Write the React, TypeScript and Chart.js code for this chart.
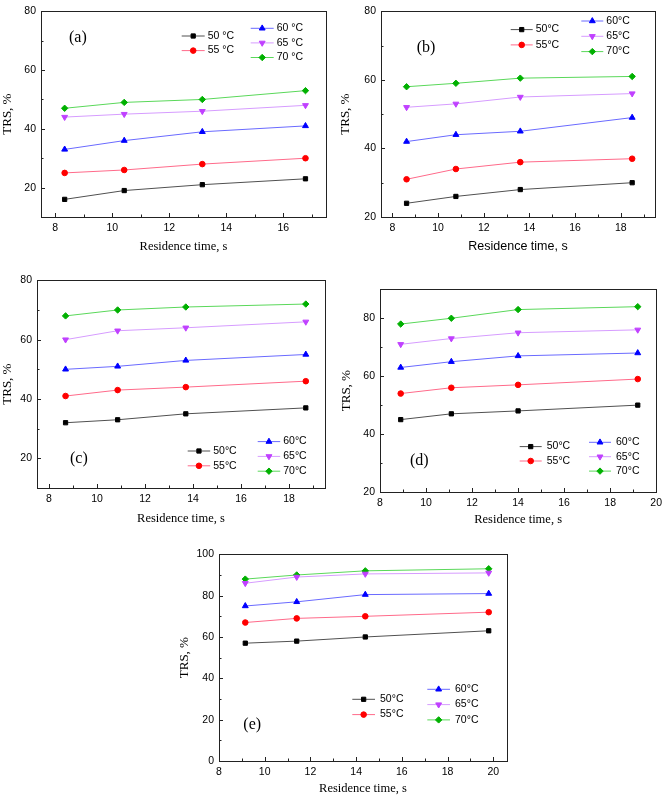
import React, { useEffect, useRef } from 'react';
import { Chart, registerables } from 'chart.js';
import { drawPoint } from 'chart.js/helpers';

Chart.register(...registerables);

// ---------- data ----------
const temps = ['50', '55', '60', '65', '70'];

// panel (a)
const xA = [8.33, 10.42, 13.16, 16.78];
const a50 = [16, 19, 21, 23];
const a55 = [25, 26, 28, 30];
const a60 = [33, 36, 39, 41];
const a65 = [44, 45, 46, 48];
const a70 = [47, 49, 50, 53];
const xTicksA = [8, 10, 12, 14, 16];
const yTicksA = [20, 40, 60, 80];

// panel (b)
const xB = [8.62, 10.78, 13.6, 18.5];
const b50 = [24, 26, 28, 30];
const b55 = [31, 34, 36, 37];
const b60 = [42, 44, 45, 49];
const b65 = [52, 53, 55, 56];
const b70 = [58, 59, 60.5, 61];
const xTicksB = [8, 10, 12, 14, 16, 18];
const yTicksB = [20, 40, 60, 80];

// panel (c)
const xC = [8.69, 10.86, 13.7, 18.7];
const c50 = [32, 33, 35, 37];
const c55 = [41, 43, 44, 46];
const c60 = [50, 51, 53, 55];
const c65 = [60, 63, 64, 66];
const c70 = [68, 70, 71, 72];
const xTicksC = [8, 10, 12, 14, 16, 18];
const yTicksC = [20, 40, 60, 80];

// panel (d)
const xD = [8.9, 11.1, 14.0, 19.2];
const d50 = [45, 47, 48, 50];
const d55 = [54, 56, 57, 59];
const d60 = [63, 65, 67, 68];
const d65 = [71, 73, 75, 76];
const d70 = [78, 80, 83, 84];
const xTicksD = [8, 10, 12, 14, 16, 18, 20];
const yTicksD = [20, 40, 60, 80];

// panel (e)
const xE = [9.15, 11.4, 14.4, 19.8];
const e50 = [57, 58, 60, 63];
const e55 = [67, 69, 70, 72];
const e60 = [75, 77, 80.5, 81];
const e65 = [86, 89, 90.5, 91];
const e70 = [88, 90, 92, 93];
const xTicksE = [8, 10, 12, 14, 16, 18, 20];
const yTicksE = [0, 20, 40, 60, 80, 100];

// ---------- styles ----------
const markerColors = ['#000000', '#ff0000', '#0000ff', '#c040ff', '#00b000'];
const lineColors = ['#505050', '#ff6a8a', '#6a6aff', '#d69cff', '#5ad85a'];
const pointStyles = ['rect', 'circle', 'triangle', 'triangle', 'rectRot'];
const pointRotations = [0, 0, 0, 180, 0];
const pointRadii = [3, 2.8, 3.4, 3.4, 3.2];

const SANS = '"Liberation Sans", Arial, sans-serif';
const SERIF = '"Liberation Serif", "Times New Roman", serif';

type Leg = { c1x: number; c1y: number; c2x: number; c2y: number; gap: number; lineLen: number; textGap: number };
type PanelCfg = {
  key: string;
  xs: number[];
  ys: number[][];
  xMin: number; xMax: number; yMin: number; yMax: number;
  xTicks: number[]; yTicks: number[];
  L: number; T: number; R: number; B: number;
  canvasLeft: number; xTitleY: number; padRight: number;
  xTitleFont: string;
  degSpace: boolean;
  label: string; labelDX: number; labelDY: number;
  leg: Leg;
};

const panels: PanelCfg[] = [
  {
    key: 'a', xs: xA, ys: [a50, a55, a60, a65, a70],
    xMin: 7.5, xMax: 17.5, yMin: 10, yMax: 80, xTicks: xTicksA, yTicks: yTicksA,
    L: 41, T: 7, R: 326, B: 217, canvasLeft: 0, xTitleY: 247, padRight: 10,
    xTitleFont: SERIF, degSpace: true,
    label: '(a)', labelDX: 28, labelDY: 26,
    leg: { c1x: 140.7, c1y: 24.7, c2x: 209.7, c2y: 17, gap: 14.6, lineLen: 23, textGap: 3 },
  },
  {
    key: 'b', xs: xB, ys: [b50, b55, b60, b65, b70],
    xMin: 7.5, xMax: 19.5, yMin: 20, yMax: 80, xTicks: xTicksB, yTicks: yTicksB,
    L: 381, T: 7, R: 655, B: 217, canvasLeft: 338, xTitleY: 247, padRight: 10,
    xTitleFont: SANS, degSpace: false,
    label: '(b)', labelDX: 35.7, labelDY: 36,
    leg: { c1x: 129.7, c1y: 18.3, c2x: 200.3, c2y: 9.7, gap: 15.3, lineLen: 22, textGap: 3 },
  },
  {
    key: 'c', xs: xC, ys: [c50, c55, c60, c65, c70],
    xMin: 7.5, xMax: 19.5, yMin: 10, yMax: 80, xTicks: xTicksC, yTicks: yTicksC,
    L: 37, T: 277, R: 325, B: 488, canvasLeft: 0, xTitleY: 519, padRight: 10,
    xTitleFont: SERIF, degSpace: false,
    label: '(c)', labelDX: 33, labelDY: 178,
    leg: { c1x: 150.7, c1y: 170.7, c2x: 220.7, c2y: 161.3, gap: 14.8, lineLen: 22.5, textGap: 3 },
  },
  {
    key: 'd', xs: xD, ys: [d50, d55, d60, d65, d70],
    xMin: 8, xMax: 20, yMin: 20, yMax: 90, xTicks: xTicksD, yTicks: yTicksD,
    L: 380, T: 286, R: 659, B: 492, canvasLeft: 339, xTitleY: 520, padRight: 8,
    xTitleFont: SERIF, degSpace: false,
    label: '(d)', labelDX: 30, labelDY: 171.7,
    leg: { c1x: 139.7, c1y: 157.3, c2x: 209, c2y: 153, gap: 14.4, lineLen: 22, textGap: 5 },
  },
  {
    key: 'e', xs: xE, ys: [e50, e55, e60, e65, e70],
    xMin: 8, xMax: 20.6, yMin: 0, yMax: 100, xTicks: xTicksE, yTicks: yTicksE,
    L: 219, T: 551, R: 507, B: 761, canvasLeft: 177, xTitleY: 789, padRight: 12,
    xTitleFont: SERIF, degSpace: false,
    label: '(e)', labelDX: 24.3, labelDY: 170.7,
    leg: { c1x: 133.3, c1y: 145, c2x: 208.3, c2y: 135, gap: 15.3, lineLen: 22.7, textGap: 5 },
  },
];

// ---------- plugin: frame, inward ticks, panel label, legend ----------
const decorPlugin = {
  id: 'decor',
  afterDatasetsDraw(chart: any, _args: any, opts: any) {
    const { ctx, chartArea: a, scales } = chart;
    const xs = scales.x;
    const ys = scales.y;
    ctx.save();
    // frame
    ctx.strokeStyle = '#222222';
    ctx.lineWidth = 1;
    ctx.strokeRect(Math.round(a.left) + 0.5, Math.round(a.top) + 0.5, Math.round(a.right - a.left), Math.round(a.bottom - a.top));
    // x ticks (inward)
    ctx.beginPath();
    const xMajors: number[] = opts.xTicks;
    for (let v = Math.ceil(xs.min); v <= xs.max + 1e-9; v += 1) {
      const major = xMajors.includes(v);
      const px = Math.round(xs.getPixelForValue(v)) + 0.5;
      const len = major ? 4 : 2.5;
      ctx.moveTo(px, a.bottom);
      ctx.lineTo(px, a.bottom - len);
    }
    const yMajors: number[] = opts.yTicks;
    for (let v = Math.ceil(ys.min / 10) * 10; v <= ys.max + 1e-9; v += 10) {
      const major = yMajors.includes(v);
      const py = Math.round(ys.getPixelForValue(v)) + 0.5;
      const len = major ? 4 : 2.5;
      ctx.moveTo(a.left, py);
      ctx.lineTo(a.left + len, py);
    }
    ctx.stroke();

    // panel label
    ctx.fillStyle = '#000000';
    ctx.font = `16px ${SERIF}`;
    ctx.textBaseline = 'middle';
    ctx.textAlign = 'left';
    ctx.fillText(opts.label, a.left + opts.labelDX, a.top + opts.labelDY);

    // legend
    const leg: Leg = opts.leg;
    chart.data.datasets.forEach((ds: any, i: number) => {
      const col = i < 2 ? 0 : 1;
      const row = i < 2 ? i : i - 2;
      const x0 = a.left + (col === 0 ? leg.c1x : leg.c2x);
      const y0 = a.top + (col === 0 ? leg.c1y : leg.c2y) + row * leg.gap;
      ctx.strokeStyle = ds.borderColor;
      ctx.lineWidth = 1;
      ctx.beginPath();
      ctx.moveTo(x0, y0);
      ctx.lineTo(x0 + leg.lineLen, y0);
      ctx.stroke();
      ctx.fillStyle = ds.pointBackgroundColor;
      ctx.strokeStyle = ds.pointBorderColor;
      drawPoint(ctx, {
        pointStyle: ds.pointStyle,
        radius: ds.pointRadius,
        rotation: ds.pointRotation,
        borderWidth: 1,
      } as any, x0 + leg.lineLen / 2, y0);
      ctx.fillStyle = '#000000';
      ctx.font = `10.5px ${SANS}`;
      ctx.textBaseline = 'middle';
      ctx.textAlign = 'left';
      ctx.fillText(ds.label, x0 + leg.lineLen + leg.textGap, y0);
    });
    ctx.restore();
  },
};

function Panel({ p }: { p: PanelCfg }) {
  const ref = useRef<HTMLCanvasElement | null>(null);
  const canvasTop = Math.max(0, p.T - 8);
  const padTop = p.T - canvasTop;
  const canvasBottom = p.xTitleY + 9;
  const width = p.R + p.padRight - p.canvasLeft;
  const height = canvasBottom - canvasTop;
  const yAxisW = p.L - p.canvasLeft;
  const xAxisH = canvasBottom - p.B;

  useEffect(() => {
    const canvas = ref.current!;
    const chart = new Chart(canvas, {
      type: 'line',
      data: {
        datasets: p.ys.map((vals, i) => ({
          label: p.degSpace ? `${temps[i]} °C` : `${temps[i]}°C`,
          data: p.xs.map((x, j) => ({ x, y: vals[j] })),
          borderColor: lineColors[i],
          backgroundColor: markerColors[i],
          pointBackgroundColor: markerColors[i],
          pointBorderColor: markerColors[i],
          pointStyle: pointStyles[i] as any,
          pointRotation: pointRotations[i],
          pointRadius: pointRadii[i],
          pointBorderWidth: 1,
          borderWidth: 1,
          tension: 0,
        })),
      },
      options: {
        animation: false,
        responsive: false,
        maintainAspectRatio: false,
        events: [],
        layout: { padding: { top: padTop, right: p.padRight, left: 0, bottom: 0 } },
        plugins: {
          legend: { display: false },
          tooltip: { enabled: false },
          decor: {
            xTicks: p.xTicks, yTicks: p.yTicks, label: p.label,
            labelDX: p.labelDX, labelDY: p.labelDY, leg: p.leg,
          },
        } as any,
        scales: {
          x: {
            type: 'linear',
            min: p.xMin,
            max: p.xMax,
            grid: { display: false, drawTicks: false },
            border: { display: false },
            afterBuildTicks: (s: any) => { s.ticks = p.xTicks.map((v) => ({ value: v })); },
            afterFit: (s: any) => { s.height = xAxisH; },
            ticks: {
              autoSkip: false, maxRotation: 0, padding: 5,
              color: '#000000', font: { family: SANS, size: 10.5 },
            },
            title: {
              display: true, text: 'Residence time, s', color: '#000000',
              font: { family: p.xTitleFont, size: 12.5 },
              padding: { top: 0, bottom: 1.5 },
            },
          },
          y: {
            type: 'linear',
            min: p.yMin,
            max: p.yMax,
            grid: { display: false, drawTicks: false },
            border: { display: false },
            afterBuildTicks: (s: any) => { s.ticks = p.yTicks.map((v) => ({ value: v })); },
            afterFit: (s: any) => { s.width = yAxisW; },
            ticks: {
              autoSkip: false, padding: 5,
              color: '#000000', font: { family: SANS, size: 10.5 },
            },
            title: {
              display: true, text: 'TRS, %', color: '#000000',
              font: { family: SERIF, size: 13 },
              padding: { top: 0, bottom: 0 },
            },
          },
        },
      },
      plugins: [decorPlugin],
    });
    return () => chart.destroy();
  }, []);

  return (
    <canvas
      ref={ref}
      width={width}
      height={height}
      style={{ position: 'absolute', left: p.canvasLeft, top: canvasTop, width, height }}
    />
  );
}

export default function App() {
  return (
    <div style={{ position: 'absolute', left: 0, top: 0, width: 668, height: 798, background: '#ffffff', overflow: 'hidden' }}>
      {panels.map((p) => (
        <Panel key={p.key} p={p} />
      ))}
    </div>
  );
}
